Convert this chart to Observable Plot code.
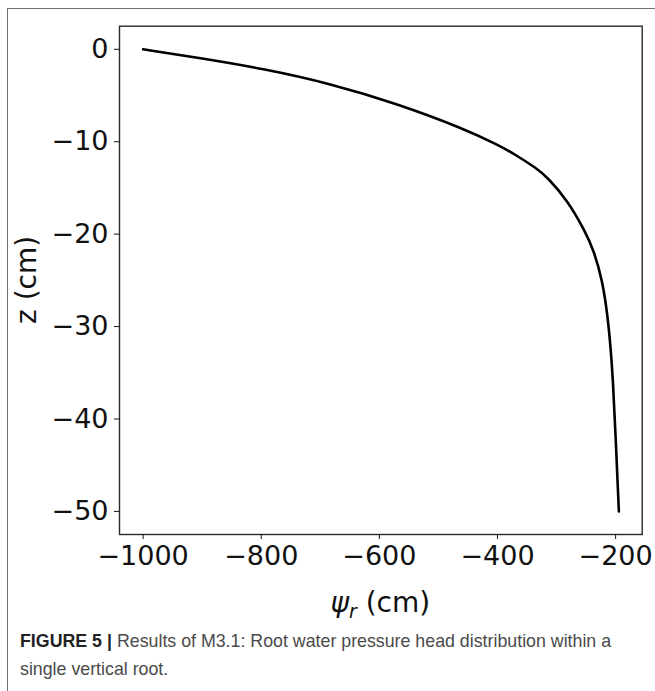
<!DOCTYPE html>
<html>
<head>
<meta charset="utf-8">
<script src="https://cdn.jsdelivr.net/npm/d3@7"></script>
<script src="https://cdn.jsdelivr.net/npm/@observablehq/plot@0.6"></script>
<style>
  html, body { margin: 0; padding: 0; background: #fff; }
  #page { position: relative; width: 655px; height: 691px; overflow: hidden; background: #fff; }
  #border { position: absolute; left: 7px; top: 8px; right: -5px; bottom: -5px;
            border-left: 1.6px solid #707070; border-top: 1.6px solid #707070; }
  #chart { position: absolute; left: 0; top: 0; }
  #caption { position: absolute; left: 20px; top: 627px; width: 625px;
             font-family: "Liberation Sans", Arial, sans-serif; font-size: 17.8px;
             line-height: 28px; color: #4a4a4a; white-space: nowrap; }
  #caption b { color: #222; margin-right: 5px; }
  #caption div { height: 28px; }
</style>
</head>
<body>
<div id="page">
  <div id="border"></div>
  <div id="chart"></div>
  <div id="caption">
    <div><b>FIGURE 5 |</b><span>Results of M3.1: Root water pressure head distribution within a</span></div>
    <div><span>single vertical root.</span></div>
  </div>
</div>
<script>
// Data: depth z (cm) and root pressure head psi_r (cm)
const zValues = [0, -0.9, -2.09, -3.71, -5.88, -8.58, -10.39, -11.29, -12.91, -13.82, -16.34, -19.59, -21.75, -25, -28.6, -32.2, -35.8, -41.2, -50];
const psiValues = [-1000, -909, -796.5, -683, -570, -457, -398, -372.5, -333, -316, -281.5, -252.5, -237, -222.5, -214, -208.5, -204.5, -200.5, -194.5];
const xTicks = [-1000, -800, -600, -400, -200];
const yTicks = [0, -10, -20, -30, -40, -50];
const xLabel = "(cm)";
const yLabel = "z (cm)";

const data = zValues.map((z, i) => ({z, psi: psiValues[i]}));

const W = 655, H = 620;
const mL = 119, mT = 25.7, mR = 13.3, mB = 86;
const font = "DejaVu Sans, sans-serif";

const chart = Plot.plot({
  width: W,
  height: H,
  marginLeft: mL,
  marginTop: mT,
  marginRight: mR,
  marginBottom: mB,
  style: {background: "transparent", fontFamily: font, overflow: "visible", color: "#111"},
  x: {domain: [-1040, -155]},
  y: {domain: [-52.5, 2.5]},
  marks: [
    Plot.frame({stroke: "#2a2a2a", strokeWidth: 1.4}),
    Plot.axisX({ticks: xTicks, tickSize: 5, tickPadding: 6, fontSize: 27, label: null, tickFormat: d3.format("")}),
    Plot.axisY({ticks: yTicks, tickSize: 5, tickPadding: 6, fontSize: 27, label: null, tickFormat: d3.format("")}),
    Plot.line(data, {x: "psi", y: "z", stroke: "#000", strokeWidth: 2.6, curve: "basis"})
  ]
});

document.getElementById("chart").appendChild(chart);

// Axis titles (with subscript for psi_r)
const svg = d3.select(chart);
const cx = mL + (W - mL - mR) / 2;
const cy = mT + (H - mT - mB) / 2;
const xt = svg.append("text")
  .attr("x", cx).attr("y", 612)
  .attr("text-anchor", "middle")
  .attr("font-family", font).attr("font-size", 28).attr("fill", "#111");
xt.append("tspan").attr("font-style", "italic").text("ψ");
xt.append("tspan").attr("font-style", "italic").attr("font-size", 19).attr("dy", 6).text("r");
xt.append("tspan").attr("dy", -6).text(" " + xLabel);

svg.append("text")
  .attr("transform", `translate(36,${cy}) rotate(-90)`)
  .attr("text-anchor", "middle")
  .attr("font-family", font).attr("font-size", 28).attr("fill", "#111")
  .text(yLabel);
</script>
</body>
</html>
